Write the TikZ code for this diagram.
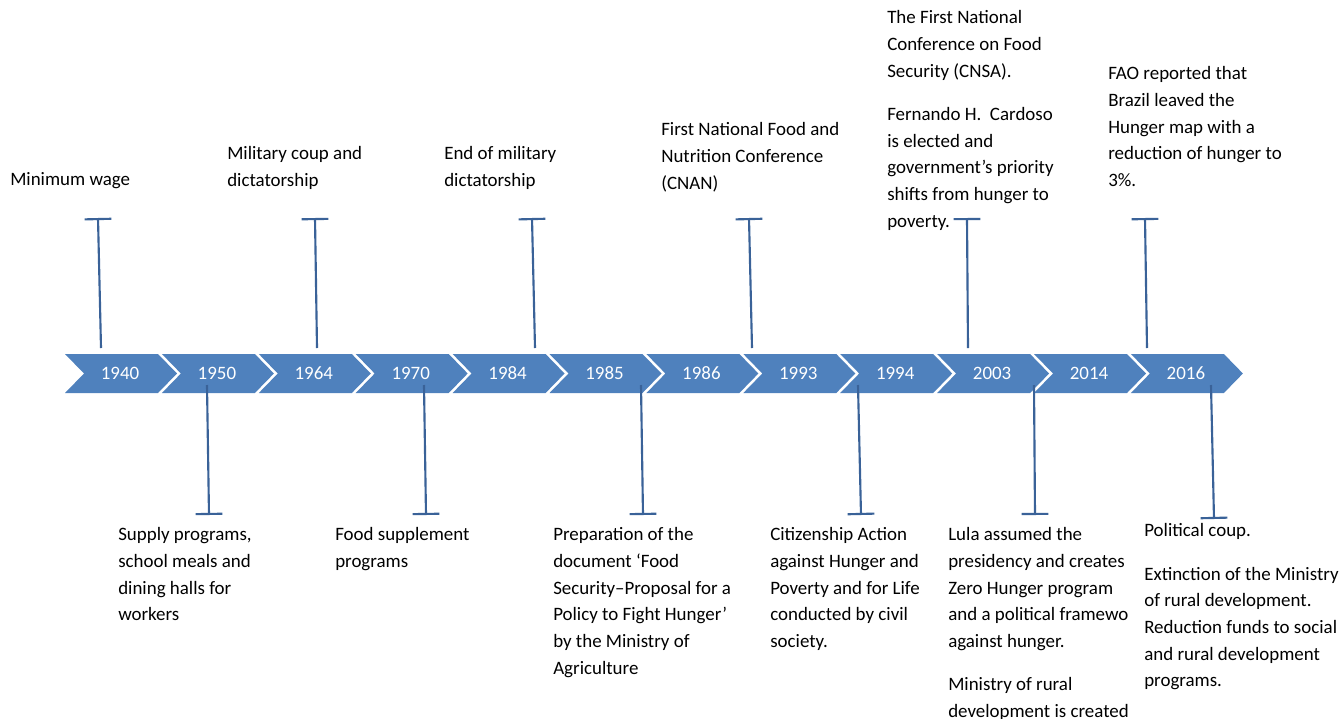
\documentclass[tikz,border=0pt]{standalone}
\usepackage{fontspec}
\setmainfont{Carlito}
\usetikzlibrary{arrows.meta}
\definecolor{chevblue}{RGB}{79,129,189}
\definecolor{tickblue}{RGB}{58,98,152}
\newcommand\evfont{\fontsize{14.2pt}{20pt}\selectfont}
\begin{document}
\begin{tikzpicture}[x=0.75pt,y=-0.75pt,
  yearlbl/.style={text=white,font=\evfont},
  evt/.style={anchor=north west,inner sep=0pt,align=left,font=\evfont},
  tick/.style={draw=tickblue,line width=1.6pt,-{Bar[width=20pt]}}]
  \useasboundingbox (0,0) rectangle (1339,718);
  \foreach \yr [count=\i from 0] in {1940,1950,1964,1970,1984,1985,1986,1993,1994,2003,2014,2016}{
    \pgfmathsetmacro\lft{65+96.9*\i}
    \fill[chevblue] (\lft,354) -- ++(93,0) -- ++(19,19.5) -- ++(-19,19.5)
      -- ++(-93,0) -- ++(19,-19.5) -- cycle;
    \node[yearlbl] (c\yr) at (\lft+55,373.5) {\yr};
  }
  \foreach \nm/\xa/\xb in {1940/101/98,1964/317/315,1984/535/532,1986/752/749,2003/968/967,2014/1147/1145}{
    \coordinate (us\nm) at (\xa,348);
    \coordinate (ue\nm) at (\xb,218);
    \draw[tick] (us\nm) -- (ue\nm);
  }
  \foreach \nm/\xa/\xb/\ye in {1950/207/209/515,1970/424/426/515,1985/641/643/515,1994/858/861/515,2003/1034/1035/515,2016/1211/1214/519}{
    \coordinate (ds\nm) at (\xa,385);
    \coordinate (de\nm) at (\xb,\ye);
    \draw[tick] (ds\nm) -- (de\nm);
  }
  \node[evt] (wage) at (10,167) {\strut Minimum wage};
  \node[evt] (coup64) at (227,141) {\strut Military coup and\\dictatorship};
  \node[evt] (endmil) at (444,141) {\strut End of military\\dictatorship};
  \node[evt] (cnan) at (661,117) {\strut First National Food and\\Nutrition Conference\\(CNAN)};
  \node[evt] (cnsa) at (887,5) {\strut The First National\\Conference on Food\\Security (CNSA).\\[12.5pt]
    Fernando H.\ \ Cardoso\\is elected and\\government's priority\\shifts from hunger to\\poverty.};
  \node[evt] (fao) at (1108,61) {\strut FAO reported that\\Brazil leaved the\\Hunger map with a\\reduction of hunger to\\3\%.};
  \node[evt] (supply) at (118,522) {\strut Supply programs,\\school meals and\\dining halls for\\workers};
  \node[evt] (foodsup) at (335,522) {\strut Food supplement\\programs};
  \node[evt] (fsprop) at (553,522) {\strut Preparation of the\\document `Food\\Security--Proposal for a\\Policy to Fight Hunger'\\by the Ministry of\\Agriculture};
  \node[evt] (citizen) at (770,522) {\strut Citizenship Action\\against Hunger and\\Poverty and for Life\\conducted by civil\\society.};
  \node[evt] (lula) at (948,522) {\strut Lula assumed the\\presidency and creates\\Zero Hunger program\\and a political framewo\\against hunger.\\[12.5pt]
    Ministry of rural\\development is created};
  \node[evt] (coup16) at (1144,518) {\strut Political coup.\\[12.5pt]
    Extinction of the Ministry\\of rural development.\\Reduction funds to social\\and rural development\\programs.};
\end{tikzpicture}
\end{document}
